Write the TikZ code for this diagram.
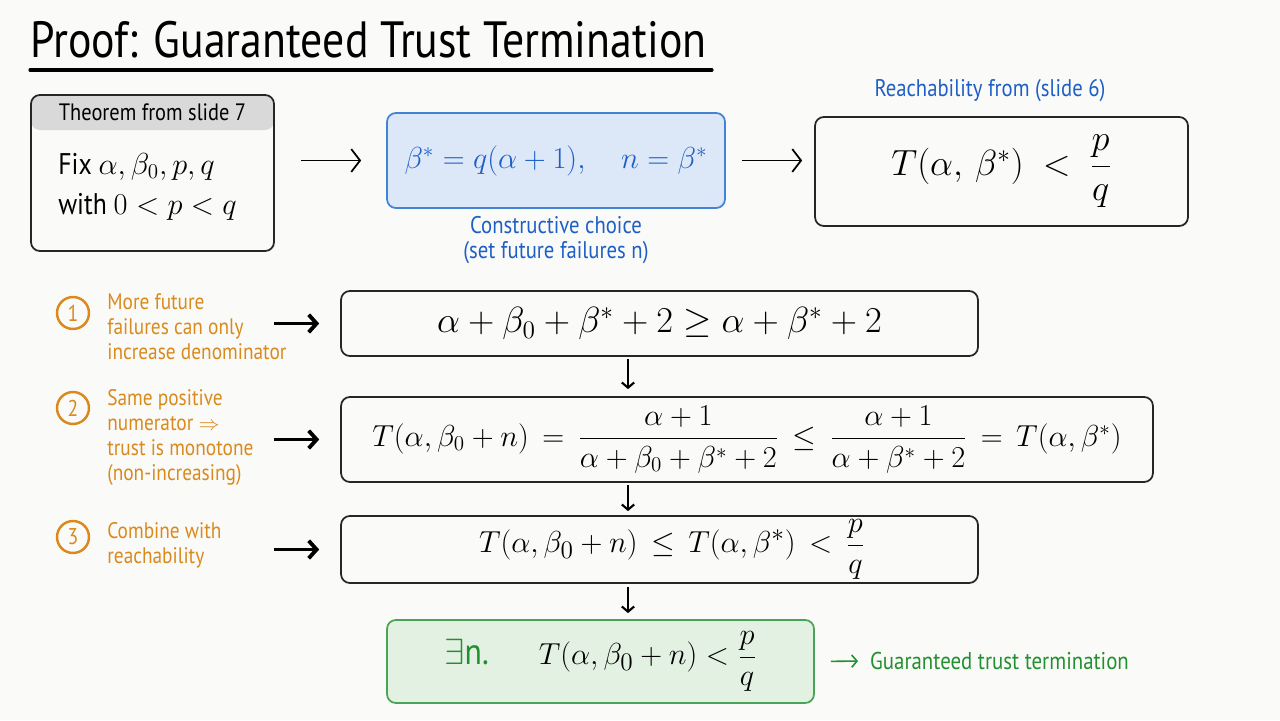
\documentclass[tikz,border=0pt]{standalone}
\usepackage{amsmath}
\usepackage{fontspec}
\setmainfont{PT Sans}[FakeStretch=0.86]
\usetikzlibrary{arrows.meta,calc}

\definecolor{bgcol}{HTML}{FAFAF8}
\definecolor{bluetxt}{HTML}{1D5FC6}
\definecolor{bluebox}{HTML}{DCE7F8}
\definecolor{blueline}{HTML}{4383D6}
\definecolor{orangetxt}{HTML}{DA8A1C}
\definecolor{greentxt}{HTML}{23902F}
\definecolor{greenbox}{HTML}{E3F1E3}
\definecolor{greenline}{HTML}{4AA456}
\colorlet{headgray}{black!15}

\newcommand\fsz[2]{\fontsize{#1}{#2}\selectfont}

\tikzset{
  stepbox/.style={draw=black!85, line width=1pt, rounded corners=5pt, inner sep=0},
  top arrow/.style={-{Straight Barb[length=5pt,width=13pt]}, line width=1pt},
  row arrow/.style={-{Straight Barb[length=4.5pt,width=10pt]}, line width=2.2pt},
  down arrow/.style={-{Straight Barb[length=3pt,width=7pt]}, line width=1.2pt},
}

\begin{document}
\begin{tikzpicture}[x=0.02cm, y=-0.02cm,
      lbl/.style={font=\fsz{12.8}{14.2}, text=orangetxt, align=left,
                  anchor=west, inner sep=0},
      note/.style={font=\fsz{13.7}{14.2}, text=bluetxt, align=center},
    ]
    \useasboundingbox[fill=bgcol] (0,0) rectangle (1280,720);

    % Title
    \node[font=\fsz{29}{32}, anchor=west, inner sep=0] (title) at (30,40)
      {Proof: Guaranteed Trust Termination};
    \draw[line width=1.8pt, line cap=round] (30,70) -- (712,70);

    % Theorem box
    \node[stepbox, minimum width=4.86cm, minimum height=3.12cm,
          path picture={\fill[headgray] (path picture bounding box.north west)
            rectangle ([yshift=-0.7cm]path picture bounding box.north east);}]
          (thm) at (152.5,173) {};
    \node[font=\fsz{13.5}{16}] (thmhead) at ($(thm.north)+(0,18)$) {Theorem from slide 7};
    \node[font=\fsz{17}{23}, align=left, anchor=west, inner sep=0] (thmbody) at (58,187)
      {Fix $\alpha, \beta_0, p, q$\\ with $0 < p < q$};

    % Constructive choice
    \node[stepbox, draw=blueline, fill=bluebox, text=bluetxt, font=\fsz{17.4}{20},
          minimum width=6.76cm, minimum height=1.9cm] (choice) at (556,160.5)
      {$\beta^* = q(\alpha+1), \quad n = \beta^*$};
    \node[note] (choicenote) at ($(choice.south)+(0,31.5)$)
      {Constructive choice\\(set future failures n)};

    % Reachability
    \node[stepbox, font=\fsz{22}{26}, minimum width=7.46cm, minimum height=2.18cm]
          (reach) at (1001.5,171.5) {$T(\alpha,\,\beta^*)\ <\ \dfrac{p}{q}$};
    \node[note] (reachnote) at (990,91) {Reachability from (slide 6)};

    \draw[top arrow, shorten <=0.52cm, shorten >=0.5cm] (choice.west -| thm.east) -- (choice.west);
    \draw[top arrow, shorten <=0.32cm, shorten >=0.24cm] (choice.east) -- (choice.east -| reach.west);

    % Proof steps
    \node[stepbox, font=\fsz{20.74}{24}, minimum width=12.74cm, minimum height=1.3cm]
          (s1) at (659.5,323.5) {$\alpha + \beta_0 + \beta^* + 2 \ge \alpha + \beta^* + 2$};
    \node[stepbox, font=\fsz{16.5}{20}, minimum width=16.24cm, minimum height=1.7cm]
          (s2) at (747,439.5)
      {$T(\alpha,\beta_0+n) \,=\, \dfrac{\alpha+1}{\alpha+\beta_0+\beta^*+2}
        \,\le\, \dfrac{\alpha+1}{\alpha+\beta^*+2} \,=\, T(\alpha,\beta^*)$};
    \node[stepbox, font=\fsz{19}{22}, minimum width=12.74cm, minimum height=1.34cm]
          (s3) at (659.5,549.5)
      {\hspace*{0.5cm}$T(\alpha,\beta_0+n) \,\le\, T(\alpha,\beta^*) \,<\, \dfrac{p}{q}$};
    \node[stepbox, draw=greenline, fill=greenbox, font=\fsz{19}{22},
          minimum width=8.54cm, minimum height=1.66cm] (final) at (600.5,661.5)
      {{\color{greentxt}\fsz{21}{24}$\exists$n.}\quad\enspace $T(\alpha,\beta_0+n) < \dfrac{p}{q}$};
    \node[font=\fsz{13.8}{16}, text=greentxt, anchor=west] (tag) at (864,661)
      {Guaranteed trust termination};
    \draw[-{Straight Barb[length=3pt,width=7pt]}, greentxt, line width=0.9pt,
          shorten <=0.32cm, shorten >=0.12cm] (final.east) -- (tag.west);

    % Arrows into and between the steps
    \coordinate (ax) at (274,0);
    \coordinate (dx) at (628,0);
    \foreach \s in {s1,s2,s3}
      \draw[row arrow, shorten >=0.42cm] (\s.west -| ax) -- (\s.west);
    \draw[down arrow, shorten <=0.04cm, shorten >=0.14cm] (s1.south -| dx) -- (s2.north -| dx);
    \draw[down arrow, shorten <=0.04cm, shorten >=0.08cm] (s2.south -| dx) -- (s3.north -| dx);
    \draw[down arrow, shorten <=0.06cm, shorten >=0.12cm] (s3.south -| dx) -- (final.north -| dx);

    % Step labels
    \foreach \k/\cy/\ty/\txt in {
      1/313/326.5/{More future\\failures can only\\increase denominator},
      2/408/437.5/{Same positive\\numerator $\Rightarrow$\\trust is monotone\\(non-increasing)},
      3/537/545.5/{Combine with\\reachability}} {
      \node[circle, draw=orangetxt, line width=1.4pt, minimum size=0.64cm, inner sep=0,
            text=orangetxt, font=\fsz{13}{15}] (num\k) at (73,\cy) {\k};
      \node[lbl] (lbl\k) at (107,\ty) {\txt};
    }
  \end{tikzpicture}
\end{document}
